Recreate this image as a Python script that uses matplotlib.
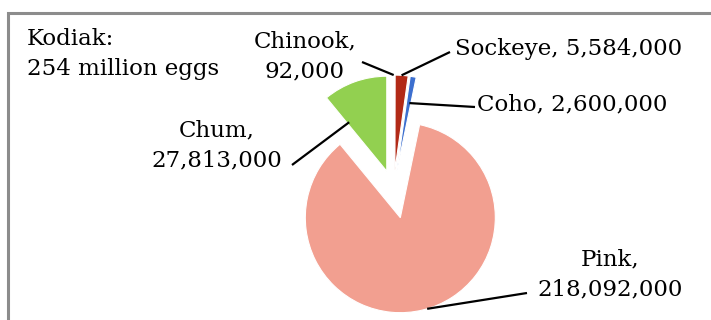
import numpy as np
import matplotlib
matplotlib.use("Agg")
import matplotlib.pyplot as plt

# Kodiak hatchery egg take by species
species = ["Chinook", "Sockeye", "Coho", "Pink", "Chum"]
eggs = [92000, 5584000, 2600000, 218092000, 27813000]
colors = ["#B03A2E", "#B22A17", "#3C6FCF", "#F29F90", "#92D050"]
explode = [0.21, 0.21, 0.21, 0.30, 0.21]
title_lines = ["Kodiak:", "254 million eggs"]

W, H = 711, 320
FONT = "DejaVu Serif"
FS = 16.5

fig = plt.figure(figsize=(W / 100, H / 100), dpi=100)
ax = fig.add_axes([0, 0, 1, 1])

R = 95
center = (393.5, H - 190)
# pie() offsets exploded wedges in data units, so scale the fractions by R
wedges, _ = ax.pie(
    eggs, colors=colors, explode=[e * R for e in explode], radius=R,
    center=center, startangle=90, counterclock=False,
    wedgeprops=dict(edgecolor="white", linewidth=0.8),
    frame=True,
)
ax.set_xlim(0, W)
ax.set_ylim(0, H)
ax.set_aspect("equal")
ax.axis("off")

# outer frame (continues past the right and bottom edges)
ax.plot([8, 8, W + 5], [-5, H - 13, H - 13], color="#8C8C8C", lw=2.2,
        solid_joinstyle="miter", clip_on=False)

# title block
ax.text(27, H - 45, title_lines[0], fontsize=FS, family=FONT, va="baseline")
ax.text(27, H - 75, title_lines[1], fontsize=FS, family=FONT, va="baseline")

# label layout: anchor radius fraction / angle on the wedge, leader end, text position
label_layout = {
    "Chinook": dict(two=True, rf=1.0, ang=89.9, end=(362, 62), pos=(305, 47), ha="center"),
    "Sockeye": dict(two=False, rf=1.0, ang=86.0, end=(450, 52), pos=(455, 55), ha="left"),
    "Coho": dict(two=False, rf=0.72, ang=79.5, end=(475, 107), pos=(477, 110), ha="left"),
    "Chum": dict(two=True, rf=0.65, ang=127.5, end=(292, 165), pos=(217, 136), ha="center"),
    "Pink": dict(two=True, rf=1.0, ang=-73.6, end=(527, 293), pos=(610, 265), ha="center"),
}

for w, name, val in zip(wedges, species, eggs):
    lay = label_layout[name]
    cx, cy = w.center
    a = np.deg2rad(lay["ang"])
    ax_pt = (cx + lay["rf"] * R * np.cos(a), cy + lay["rf"] * R * np.sin(a))
    ex, ey = lay["end"]
    ax.plot([ax_pt[0], ex], [ax_pt[1], H - ey], color="black", lw=1.6,
            solid_capstyle="butt")
    if lay["two"]:
        ax.text(lay["pos"][0], H - lay["pos"][1], f"{name},", fontsize=FS,
                family=FONT, ha=lay["ha"], va="baseline")
        ax.text(lay["pos"][0], H - lay["pos"][1] - 30, f"{val:,}", fontsize=FS,
                family=FONT, ha=lay["ha"], va="baseline")
    else:
        ax.text(lay["pos"][0], H - lay["pos"][1], f"{name}, {val:,}", fontsize=FS,
                family=FONT, ha=lay["ha"], va="baseline")

fig.savefig("out.png", dpi=100, facecolor="white")
